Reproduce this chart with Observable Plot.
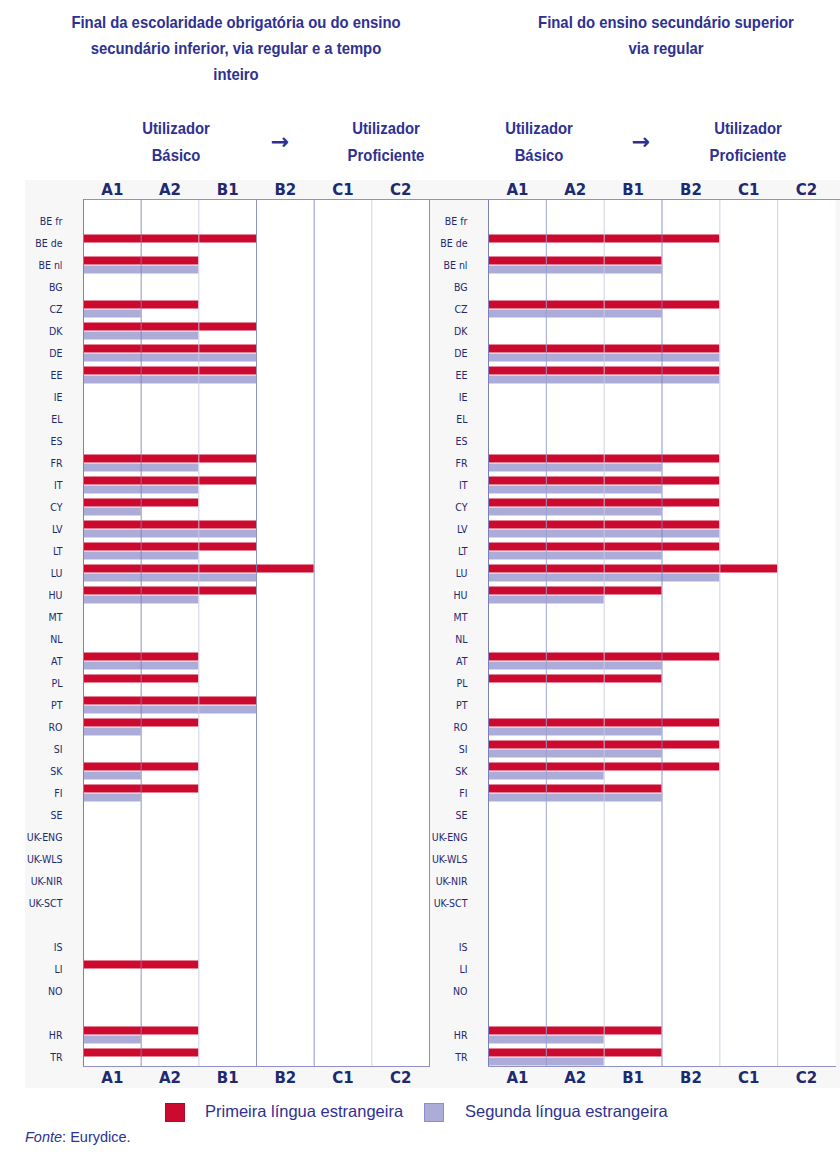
<!DOCTYPE html>
<html><head><meta charset="utf-8">
<script src="https://cdn.jsdelivr.net/npm/d3@7"></script>
<script src="https://cdn.jsdelivr.net/npm/@observablehq/plot@0.6"></script>
<style>
body{margin:0;background:#fff;}
#wrap{position:relative;width:840px;height:1161px;overflow:hidden;font-family:"Liberation Sans",Arial,sans-serif;color:#2e3192;}
.bg{position:absolute;left:25px;top:180px;width:815px;height:908px;background:#f7f7f8;}
.t{position:absolute;font-family:"Liberation Sans",Arial,sans-serif;font-weight:bold;font-size:16.5px;text-align:center;line-height:26px;color:#2e3192;transform:translateX(-50%) scaleX(0.9);white-space:nowrap;}
.h{line-height:27px;}
.arrow{position:absolute;font-family:"DejaVu Sans",sans-serif;font-weight:bold;font-size:22px;color:#2e3192;transform:translate(-50%,-50%);}
.panel{position:absolute;top:170px;}
.line{position:absolute;height:0;border-top:1px solid #8f91c2;}
.sw{position:absolute;width:20px;height:19px;box-sizing:border-box;}
.lt{position:absolute;font-size:16.5px;color:#2e3192;white-space:nowrap;}
.src{position:absolute;left:25px;top:1129px;font-size:14.5px;color:#2e3192;}
</style>
</head><body>
<div id="wrap">
  <div class="bg"></div>
  <div class="t" style="left:236px;top:9px">Final da escolaridade obrigatória ou do ensino<br>secundário inferior, via regular e a tempo<br>inteiro</div>
  <div class="t" style="left:666px;top:9px">Final do ensino secundário superior<br>via regular</div>

  <div class="t h" style="left:176px;top:115px">Utilizador<br>Básico</div>
  <div class="arrow" style="left:280px;top:141px">→</div>
  <div class="t h" style="left:386px;top:115px">Utilizador<br>Proficiente</div>

  <div class="t h" style="left:539px;top:115px">Utilizador<br>Básico</div>
  <div class="arrow" style="left:641px;top:141px">→</div>
  <div class="t h" style="left:748px;top:115px">Utilizador<br>Proficiente</div>

  <div id="left" class="panel" style="left:0px"></div>
  <div id="right" class="panel" style="left:430px"></div>
  <div class="line" style="left:429px;top:199px;width:60px"></div>
  <div class="line" style="left:835px;top:199px;width:5px"></div>

  <div class="sw" style="left:165px;top:1103px;background:#cc0a30;border:1px solid #b0082a"></div>
  <div class="lt" style="left:205px;top:1102px">Primeira língua estrangeira</div>
  <div class="sw" style="left:424px;top:1103px;background:#acacd8;border:1px solid #8e8ec4"></div>
  <div class="lt" style="left:465px;top:1102px">Segunda língua estrangeira</div>
  <div class="src"><i>Fonte</i>: Eurydice.</div>
</div>
<script>
// CEFR levels (x axis categories)
const levels = ["A1","A2","B1","B2","C1","C2"];
// Rows (names starting with "_" are empty spacer rows)
const countries = ["BE fr","BE de","BE nl","BG","CZ","DK","DE","EE","IE","EL","ES","FR","IT","CY","LV","LT","LU","HU","MT","NL","AT","PL","PT","RO","SI","SK","FI","SE","UK-ENG","UK-WLS","UK-NIR","UK-SCT","_gap1","IS","LI","NO","_gap2","HR","TR"];

// Level reached (1=A1 ... 6=C2, 0 = no level set)
// End of compulsory / lower secondary education
const lowerFirst  = [0,3,2,0,2,3,3,3,0,0,0,3,3,2,3,3,4,3,0,0,2,2,3,2,0,2,2,0,0,0,0,0,0,0,2,0,0,2,2];
const lowerSecond = [0,0,2,0,1,2,3,3,0,0,0,2,2,1,3,2,3,2,0,0,2,0,3,1,0,1,1,0,0,0,0,0,0,0,0,0,0,1,0];
// End of upper secondary education
const upperFirst  = [0,4,3,0,4,0,4,4,0,0,0,4,4,4,4,4,5,3,0,0,4,3,0,4,4,4,3,0,0,0,0,0,0,0,0,0,0,3,3];
const upperSecond = [0,0,3,0,3,0,4,4,0,0,0,3,3,3,4,3,4,2,0,0,3,0,0,3,3,2,3,0,0,0,0,0,0,0,0,0,0,2,2];

// Gridline level boundaries (darker / lighter strokes as in the original)
const leftDark = [1,3,4], leftLight = [2,5];
const rightDark = [3], rightMid = [1], rightLight = [2,4,5];

const RED = "#cc0a30", PURPLE = "#acacd8", FRAME = "#8f91c2";
const DARK = "#7c7fb8", MID = "#9a9cca", LIGHT = "#c9cae4";
const tickPos = levels.map((_, i) => i + 0.5);

function panel({first, second, width, marginLeft, marginRight, dark, mid, light, fullFrame}) {
  const rows = countries.map((c, i) => ({country: c, first: first[i], second: second[i]}));
  const axisText = {fontFamily: "DejaVu Sans, sans-serif", fontWeight: "bold", fontSize: 15, fill: "#1d2a70"};
  const xAxisOpts = {ticks: tickPos, tickFormat: d => levels[Math.floor(d)], tickSize: 0, label: null, ...axisText};
  return Plot.plot({
    width, height: 925, marginLeft, marginRight, marginTop: 29, marginBottom: 29,
    style: {background: "transparent", overflow: "visible"},
    x: {domain: [0, 6], axis: null},
    y: {domain: countries, paddingInner: 0.227, paddingOuter: 0.114, insetTop: 11, insetBottom: -2, axis: null},
    marks: [
      Plot.frame({fill: "white", stroke: null}),
      Plot.barX(rows.filter(d => d.first > 0), {x: "first", y: "country", fill: RED, insetBottom: 9}),
      Plot.barX(rows.filter(d => d.second > 0), {x: "second", y: "country", fill: PURPLE, insetTop: 9}),
      Plot.ruleX(light, {stroke: LIGHT, strokeOpacity: 0.9}),
      Plot.ruleX(mid, {stroke: MID, strokeOpacity: 0.9}),
      Plot.ruleX(dark, {stroke: DARK, strokeOpacity: 0.85}),
      ...(fullFrame
        ? [Plot.frame({stroke: FRAME})]
        : [Plot.frame({anchor: "top", stroke: FRAME}), Plot.frame({anchor: "bottom", stroke: FRAME})]),
      Plot.ruleX([0], {stroke: DARK}),
      Plot.axisY({tickSize: 0, tickPadding: 21, tickFormat: d => d.startsWith("_") ? "" : d,
        fontFamily: "DejaVu Sans Condensed, Liberation Sans Narrow, sans-serif", fontSize: 10.5, fill: "#1d2a70", label: null}),
      Plot.axisX({anchor: "top", tickPadding: 5, ...xAxisOpts}),
      Plot.axisX({anchor: "bottom", tickPadding: 6, ...xAxisOpts})
    ]
  });
}

document.getElementById("left").append(panel({
  first: lowerFirst, second: lowerSecond, width: 430, marginLeft: 83, marginRight: 1,
  dark: leftDark, mid: [], light: leftLight, fullFrame: true
}));
document.getElementById("right").append(panel({
  first: upperFirst, second: upperSecond, width: 410, marginLeft: 58, marginRight: 5,
  dark: rightDark, mid: rightMid, light: rightLight, fullFrame: false
}));
</script>
</body></html>
